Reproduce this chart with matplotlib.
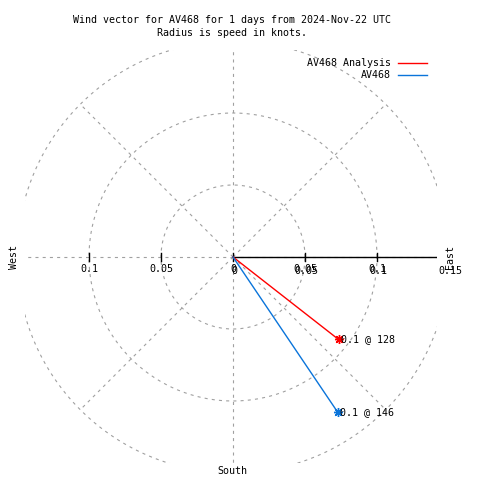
import numpy as np
import matplotlib
matplotlib.use("Agg")
import matplotlib.pyplot as plt

plt.rcParams["font.family"] = ["DejaVu Sans Mono"]
plt.rcParams["lines.scale_dashes"] = False

# data
series = ["AV468 Analysis", "AV468"]
speeds = [0.093, 0.130]          # knots
directions = [128, 146]          # degrees, clockwise from north
colors = ["#ff0000", "#0a74da"]
rings = [0.05, 0.1, 0.15]
spokes = [0, 45, 90, 135, 180, 225, 270, 315]
xtick_vals = [-0.1, -0.05, 0, 0.05, 0.1]
rtick_vals = [0, 0.05, 0.1, 0.15]

W = 480
PX = 1440.0  # pixels per knot
FS = 7.2
GRID = "#a0a0a0"

fig = plt.figure(figsize=(4.8, 4.8), dpi=100)
ax = fig.add_axes([25 / W, 17 / W, 412 / W, 413 / W])
ax.set_xlim(-208 / PX, 204 / PX)
ax.set_ylim(-206 / PX, 207 / PX)
ax.axis("off")

grid_kw = dict(color=GRID, linewidth=0.8, dashes=(2.2, 3.0))

# rings and spokes
theta = np.linspace(0, 2 * np.pi, 721)
for r in rings:
    ax.plot(r * np.cos(theta), r * np.sin(theta), **grid_kw)
for a in spokes:
    t = np.deg2rad(a)
    ax.plot([0, rings[-1] * np.cos(t)], [0, rings[-1] * np.sin(t)], **grid_kw)

# x axis (right half solid) and ticks
ax.plot([0, rings[-1]], [0, 0], color="black", linewidth=1.0)
for x in xtick_vals:
    ax.plot([x, x], [-4 / PX, 4 / PX], color="black", linewidth=1.0)
    ax.text(x, -12 / PX, f"{abs(x):g}", ha="center", va="center", fontsize=FS, clip_on=False)
for r in rtick_vals:
    ax.text(r + 1.5 / PX, -14 / PX, f"{r:g}", ha="center", va="center", fontsize=FS, clip_on=False)

# wind vectors
for name, spd, d, c in zip(series, speeds, directions, colors):
    t = np.deg2rad(90 - d)
    x, y = spd * np.cos(t), spd * np.sin(t)
    ax.plot([0, x], [0, y], color=c, linewidth=1.0)
    ax.plot([x], [y], marker=(8, 2, 0), markersize=6.5, color=c, markeredgewidth=1.0, linestyle="none")
    ax.text(x + 2 / PX, y, f"{spd:.1f} @ {d}", ha="left", va="center", fontsize=FS, clip_on=False)

# compass labels
def px(xp, yp):
    return xp / W, 1 - yp / W

fig.text(*px(14, 257), "West", rotation=90, ha="center", va="center", fontsize=FS)
fig.text(*px(450, 257), "East", rotation=90, ha="center", va="center", fontsize=FS)
fig.text(*px(232, 471), "South", ha="center", va="center", fontsize=FS)

# title
fig.text(*px(232, 20), "Wind vector for AV468 for 1 days from 2024-Nov-22 UTC",
         ha="center", va="center", fontsize=FS)
fig.text(*px(232, 33), "Radius is speed in knots.", ha="center", va="center", fontsize=FS)

# legend
for i, (name, c) in enumerate(zip(series, colors)):
    yy = 63 + 12 * i
    fig.text(*px(391, yy), name, ha="right", va="center", fontsize=FS)
    fig.add_artist(plt.Line2D([398 / W, 427 / W], [1 - yy / W] * 2, color=c, linewidth=1.0))

fig.savefig("out.png", dpi=100)
